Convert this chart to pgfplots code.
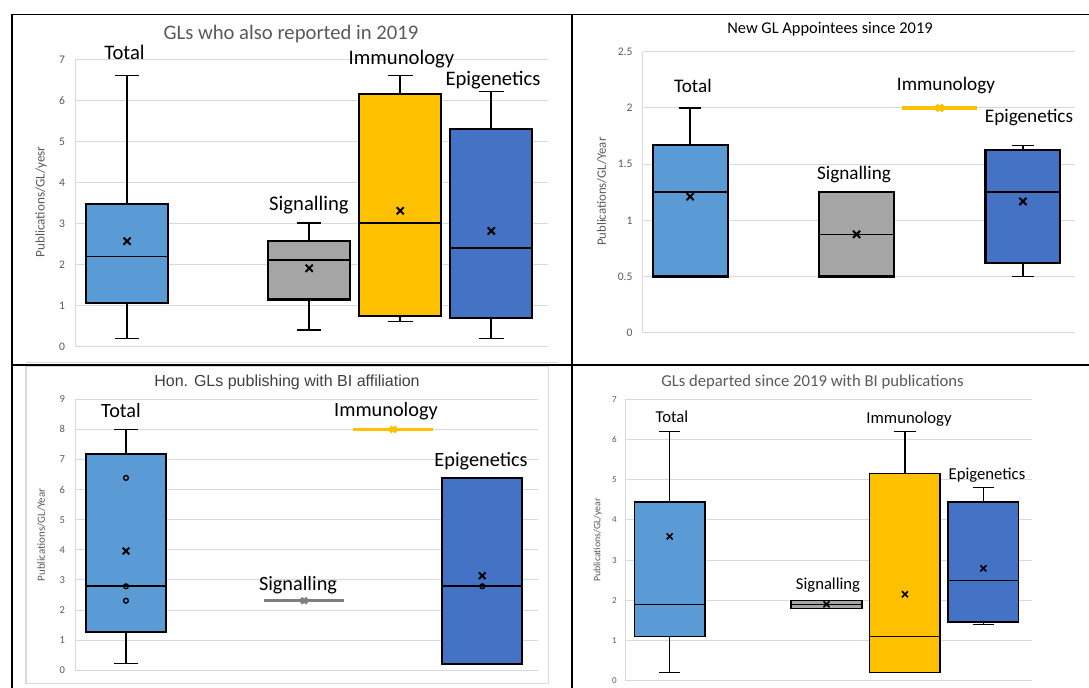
\documentclass[border=0pt]{standalone}
\usepackage{pgfplots}
\pgfplotsset{compat=1.18}
\usepgfplotslibrary{statistics}
\usepackage{fontspec}
\setmainfont{Carlito}
\newfontfamily\arialfont{Liberation Sans}

\definecolor{cTotal}{HTML}{5B9BD5}
\definecolor{cSig}{HTML}{A5A5A5}
\definecolor{cImm}{HTML}{FFC000}
\definecolor{cEpi}{HTML}{4472C4}
\definecolor{cSigLine}{HTML}{7F7F7F}
\definecolor{gridc}{HTML}{D9D9D9}
\definecolor{txt}{HTML}{595959}
\definecolor{darktxt}{HTML}{404040}

\newcommand\pxu{0.75pt}

\pgfplotsset{
  panel/.style={
    scale only axis, anchor=south west,
    xmin=0.43, xmax=5.625,
    axis x line=none, axis y line*=left,
    y axis line style={draw=gridc, line width=0.75pt},
    ymajorgrids, major grid style={draw=gridc, line width=0.75pt},
    ytick style={draw=none},
    yticklabel style={text=txt, anchor=east, inner sep=0pt, xshift=-7.5pt},
    /pgf/number format/assume math mode=true,
    scaled y ticks=false,
    boxplot/draw direction=y,
    boxplot/box extend=0.9,
    boxplot/whisker extend=0.27,
  },
  bx/.style n args={3}{
    boxplot/every box/.style={fill=#1, draw=black, line width=#2},
    boxplot/every whisker/.style={draw=black, line width=#3},
    boxplot/every median/.style={draw=black, line width=#3},
  },
  meanx/.style={only marks, mark=x, mark size=3.8pt,
    mark options={draw=black, line width=1.5pt}},
}

\begin{document}
\begin{tikzpicture}
\path[use as bounding box] (0,0) rectangle (816.75pt,-516pt);

% ---------- GLs who also reported in 2019 ----------
\begin{axis}[panel, at={(75.2*\pxu,-346.7*\pxu)},
  width=354.75pt, height=215.55pt, ymin=0, ymax=7, ytick={0,1,...,7},
  yticklabel style={font=\fontsize{8.7}{10}\selectfont}]
\addplot[bx={cTotal}{1.6pt}{1.2pt}, boxplot prepared={draw position=1,
  lower whisker=0.2, lower quartile=1.06, median=2.2,
  upper quartile=3.47, upper whisker=6.61}] coordinates {};
\addplot[bx={cSig}{1.6pt}{1.2pt}, boxplot prepared={draw position=3,
  lower whisker=0.41, lower quartile=1.15, median=2.11,
  upper quartile=2.57, upper whisker=3.01}] coordinates {};
\addplot[bx={cImm}{1.6pt}{1.2pt}, boxplot prepared={draw position=4,
  lower whisker=0.61, lower quartile=0.75, median=3.01,
  upper quartile=6.15, upper whisker=6.61}] coordinates {};
\addplot[bx={cEpi}{1.6pt}{1.2pt}, boxplot prepared={draw position=5,
  lower whisker=0.2, lower quartile=0.69, median=2.4,
  upper quartile=5.31, upper whisker=6.22}] coordinates {};
\addplot[meanx] coordinates {(1,2.57) (3,1.91) (4,3.31) (5,2.82)};
\end{axis}

% ---------- New GL Appointees since 2019 ----------
\begin{axis}[panel, at={(642.7*\pxu,-332.7*\pxu)},
  width=324.2pt, height=210.75pt, ymin=0, ymax=2.5, ytick={0,0.5,...,2.5},
  yticklabel style={font=\fontsize{8.7}{10}\selectfont}]
\addplot[bx={cTotal}{1.6pt}{1.2pt}, boxplot prepared={draw position=1,
  lower whisker=0.5, lower quartile=0.5, median=1.25,
  upper quartile=1.67, upper whisker=2.0}] coordinates {};
\addplot[bx={cSig}{1.6pt}{1.2pt}, boxplot prepared={draw position=3,
  lower whisker=0.5, lower quartile=0.5, median=0.875,
  upper quartile=1.25, upper whisker=1.25}] coordinates {};
\addplot[cImm, line width=3pt] coordinates {(3.55,2.0) (4.45,2.0)};
\addplot[bx={cEpi}{1.6pt}{1.2pt}, boxplot prepared={draw position=5,
  lower whisker=0.5, lower quartile=0.62, median=1.25,
  upper quartile=1.628, upper whisker=1.667}] coordinates {};
\addplot[meanx] coordinates {(1,1.21) (3,0.875) (5,1.168)};
\addplot[only marks, mark=x, mark size=3.4pt,
  mark options={draw=cImm, line width=2.4pt}] coordinates {(4,2.0)};
\end{axis}

% ---------- Hon. GLs publishing with BI affiliation ----------
\begin{axis}[panel, at={(75.2*\pxu,-670.3*\pxu)},
  width=347.1pt, height=203.25pt, ymin=0, ymax=9, ytick={0,1,...,9},
  yticklabel style={font=\fontsize{7.9}{9}\selectfont}]
\addplot[bx={cTotal}{1.5pt}{1.2pt}, boxplot prepared={draw position=1,
  lower whisker=0.22, lower quartile=1.28, median=2.79,
  upper quartile=7.18, upper whisker=8.0}] coordinates {};
\addplot[cSigLine, line width=2.6pt] coordinates {(2.55,2.31) (3.45,2.31)};
\addplot[cImm, line width=2.6pt] coordinates {(3.55,8.0) (4.45,8.0)};
\addplot[bx={cEpi}{1.5pt}{1.2pt}, boxplot prepared={draw position=5,
  lower whisker=0.22, lower quartile=0.22, median=2.79,
  upper quartile=6.39, upper whisker=6.39}] coordinates {};
\addplot[meanx, mark size=3.5pt] coordinates {(1,3.96) (5,3.14)};
\addplot[only marks, mark=x, mark size=3.1pt,
  mark options={draw=cSigLine, line width=2.2pt}] coordinates {(3,2.31)};
\addplot[only marks, mark=x, mark size=3.1pt,
  mark options={draw=cImm, line width=2.2pt}] coordinates {(4,8.0)};
\addplot[only marks, mark=o, mark size=1.8pt,
  mark options={draw=black, fill=white, line width=1pt}]
  coordinates {(1,6.39) (1,2.79) (1,2.31) (5,2.79)};
\end{axis}

% ---------- GLs departed since 2019 with BI publications ----------
\begin{axis}[panel, at={(625*\pxu,-680.7*\pxu)},
  width=305.5pt, height=211.05pt, ymin=0, ymax=7, ytick={0,1,...,7},
  yticklabel style={font=\fontsize{6.8}{8}\selectfont, xshift=1.5pt}]
\addplot[bx={cTotal}{1.2pt}{1pt}, boxplot prepared={draw position=1,
  lower whisker=0.2, lower quartile=1.1, median=1.9,
  upper quartile=4.45, upper whisker=6.2}] coordinates {};
\addplot[bx={cSig}{1.2pt}{1pt}, boxplot prepared={draw position=3,
  lower whisker=1.8, lower quartile=1.8, median=1.9,
  upper quartile=2.0, upper whisker=2.0}] coordinates {};
\addplot[bx={cImm}{1.2pt}{1pt}, boxplot prepared={draw position=4,
  lower whisker=0.2, lower quartile=0.2, median=1.1,
  upper quartile=5.15, upper whisker=6.2}] coordinates {};
\addplot[bx={cEpi}{1.2pt}{1pt}, boxplot prepared={draw position=5,
  lower whisker=1.4, lower quartile=1.46, median=2.5,
  upper quartile=4.45, upper whisker=4.8}] coordinates {};
\addplot[meanx, mark size=3.2pt, mark options={draw=black, line width=1.2pt}]
  coordinates {(1,3.59) (3,1.9) (4,2.15) (5,2.795)};
\end{axis}

% ---------- titles, category names, frames ----------
\begin{scope}[x=\pxu,y=-\pxu, every node/.style={inner sep=0pt}]
  % chart-area outlines
  \draw[gridc, line width=0.9pt] (26,362.3) -- (557.7,362.3);
  \draw[gridc, line width=0.9pt] (26,366.5) rectangle (548.3,683.3);

  % panel 1
  \node[anchor=base, text=txt, font=\fontsize{15.5}{18}\selectfont] at (291,40) {GLs who also reported in 2019};
  \begin{scope}[every node/.append style={anchor=base, font=\fontsize{15.5}{18}\selectfont}]
    \node at (124.5,60) {Total};
    \node at (309,210) {Signalling};
    \node at (401.5,65) {Immunology};
    \node at (493,86) {Epigenetics};
  \end{scope}
  \node[rotate=90, text=txt, font=\fontsize{9.9}{11}\selectfont] at (41,202) {Publications/GL/yesr};

  % panel 2
  \node[anchor=base, font=\fontsize{12.3}{14}\selectfont] at (830,33.3) {New GL Appointees since 2019};
  \begin{scope}[every node/.append style={anchor=base, font=\fontsize{14.4}{17}\selectfont}]
    \node at (693,92.3) {Total};
    \node at (854,180) {Signalling};
    \node at (946,90.7) {Immunology};
    \node at (1029,122.3) {Epigenetics};
  \end{scope}
  \node[rotate=90, text=txt, font=\fontsize{9.6}{11}\selectfont] at (601.7,191.7) {Publications/GL/Year};

  % panel 3
  \node[anchor=base, text=darktxt, font=\arialfont\fontsize{12}{14}\selectfont] at (287,386) {Hon. GLs publishing with BI affiliation};
  \begin{scope}[every node/.append style={anchor=base, font=\fontsize{15.2}{18}\selectfont}]
    \node at (121,417.7) {Total};
    \node at (298,590.7) {Signalling};
    \node at (386,416) {Immunology};
    \node at (481,466.7) {Epigenetics};
  \end{scope}
  \node[rotate=90, text=txt, font=\fontsize{8.2}{10}\selectfont] at (41.4,535) {Publications/GL/Year};

  % panel 4
  \node[anchor=base, text=txt, font=\fontsize{12.5}{15}\selectfont] at (812.5,386.7) {GLs departed since 2019 with BI publications};
  \begin{scope}[every node/.append style={anchor=base, font=\fontsize{12.5}{15}\selectfont}]
    \node at (672,422.3) {Total};
    \node at (828,589) {Signalling};
    \node at (909,423.3) {Immunology};
    \node at (987,479) {Epigenetics};
  \end{scope}
  \node[rotate=90, text=txt, font=\fontsize{7.4}{9}\selectfont] at (597.7,540) {Publications/GL/year};

  % table rules
  \draw[black, line width=1pt] (11.5,14.3) -- (1089,14.3);
  \draw[black, line width=1.3pt] (12.3,14) -- (12.3,688);
  \draw[black, line width=1.5pt] (572,14) -- (572,688);
  \draw[black, line width=1.3pt] (12,365) -- (1089,365);
\end{scope}
\end{tikzpicture}
\end{document}
